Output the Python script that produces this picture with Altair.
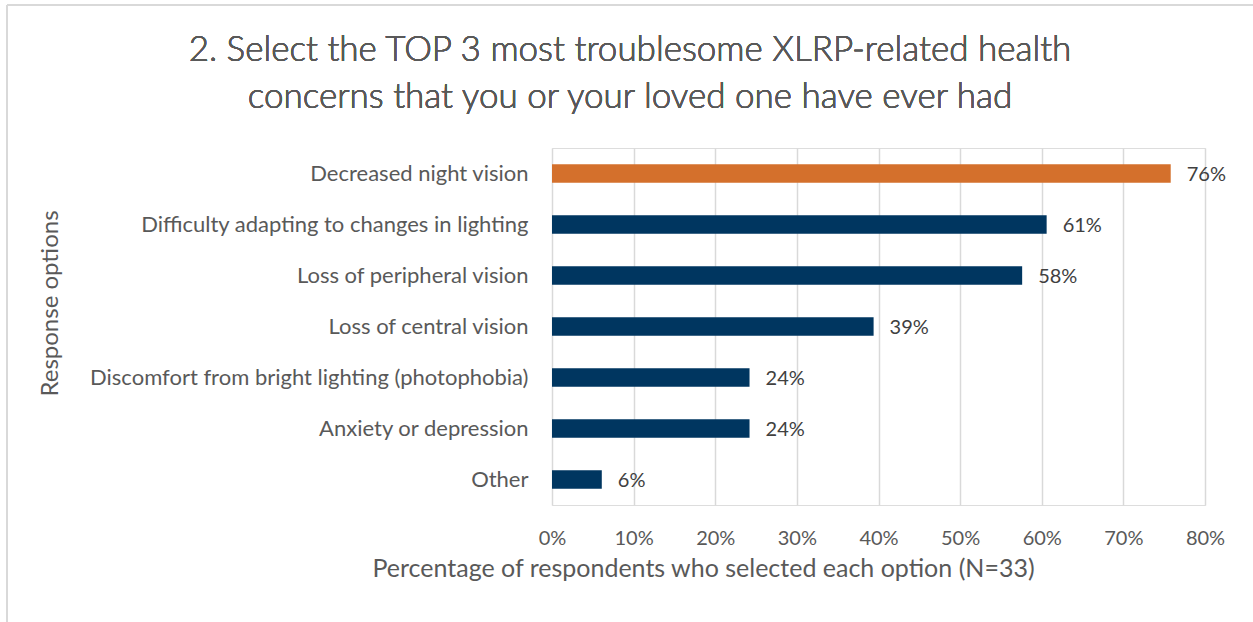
import altair as alt
import pandas as pd

categories = [
    "Decreased night vision",
    "Difficulty adapting to changes in lighting",
    "Loss of peripheral vision",
    "Loss of central vision",
    "Discomfort from bright lighting (photophobia)",
    "Anxiety or depression",
    "Other",
]
values = [0.758, 0.606, 0.576, 0.394, 0.242, 0.242, 0.061]
value_labels = ["76%", "61%", "58%", "39%", "24%", "24%", "6%"]
groups = ["top", "rest", "rest", "rest", "rest", "rest", "rest"]
tick_values = [0, 0.1, 0.2, 0.3, 0.4, 0.5, 0.6, 0.7, 0.8]
title_lines = [
    "2. Select the TOP 3 most troublesome XLRP-related health",
    "concerns that you or your loved one have ever had",
]

FONT = "Lato"
GREY = "#595959"

df = pd.DataFrame({"cat": categories, "val": values, "lab": value_labels, "grp": groups})

x = alt.X(
    "val:Q",
    scale=alt.Scale(domain=[0, 0.8], nice=False),
    axis=alt.Axis(
        values=tick_values,
        format=".0%",
        title="Percentage of respondents who selected each option (N=33)",
        grid=True,
        gridColor="#d9d9d9",
        gridWidth=1.5,
        domain=False,
        ticks=False,
        labelFlush=False,
        labelFont=FONT,
        labelFontSize=20,
        labelColor=GREY,
        labelPadding=39,
        labelBaseline="alphabetic",
        titleFont=FONT,
        titleFontSize=25,
        titleFontWeight="normal",
        titleColor=GREY,
        titleX=151,
        titleY=71,
        titleAlign="center",
        titleBaseline="alphabetic",
    ),
)
y = alt.Y(
    "cat:N",
    sort=categories,
    scale=alt.Scale(paddingInner=0.0, paddingOuter=0.0),
    axis=alt.Axis(
        title="Response options",
        domain=False,
        ticks=False,
        grid=False,
        labelFont=FONT,
        labelFontSize=22,
        labelColor=GREY,
        labelPadding=24,
        labelLimit=600,
        titleFont=FONT,
        titleFontSize=24,
        titleFontWeight="normal",
        titleColor=GREY,
        titleX=-502,
        titleY=155,
        titleAlign="center",
        titleBaseline="middle",
        titleAngle=270,
    ),
)

bars = alt.Chart(df).mark_bar(size=18.5).encode(
    x=x,
    y=y,
    color=alt.Color(
        "grp:N",
        scale=alt.Scale(domain=["top", "rest"], range=["#D4702C", "#003660"]),
        legend=None,
    ),
)

text = alt.Chart(df).mark_text(
    align="left", baseline="middle", dx=16, dy=1.5, font=FONT, fontSize=20, color="#404040"
).encode(x="val:Q", y=alt.Y("cat:N", sort=categories), text="lab:N")

title1 = alt.Chart(df).mark_text(
    text=title_lines[0], font=FONT, fontSize=35, fontWeight=300, color=GREY,
    align="center", baseline="alphabetic"
).encode(x=alt.value(78), y=alt.value(-87))
title2 = alt.Chart(df).mark_text(
    text=title_lines[1], font=FONT, fontSize=35, fontWeight=300, color=GREY,
    align="center", baseline="alphabetic"
).encode(x=alt.value(78), y=alt.value(-40))

border_left = alt.Chart(df).mark_rule(color="#d9d9d9", strokeWidth=1.5).encode(
    x=alt.value(-545), y=alt.value(-143), y2=alt.value(480)
)
border_top = alt.Chart(df).mark_rule(color="#d9d9d9", strokeWidth=1.5).encode(
    x=alt.value(-545), x2=alt.value(705), y=alt.value(-143)
)

chart = (
    alt.layer(bars, text, title1, title2, border_left, border_top)
    .properties(
        width=653,
        height=357,
        autosize=alt.AutoSizeParams(type="none"),
        padding={"left": 552, "top": 148, "right": 48, "bottom": 117},
    )
    .configure_view(stroke=None)
    .configure(background="white")
)

chart.save("out.html", embed_options={"renderer": "svg", "actions": False})
